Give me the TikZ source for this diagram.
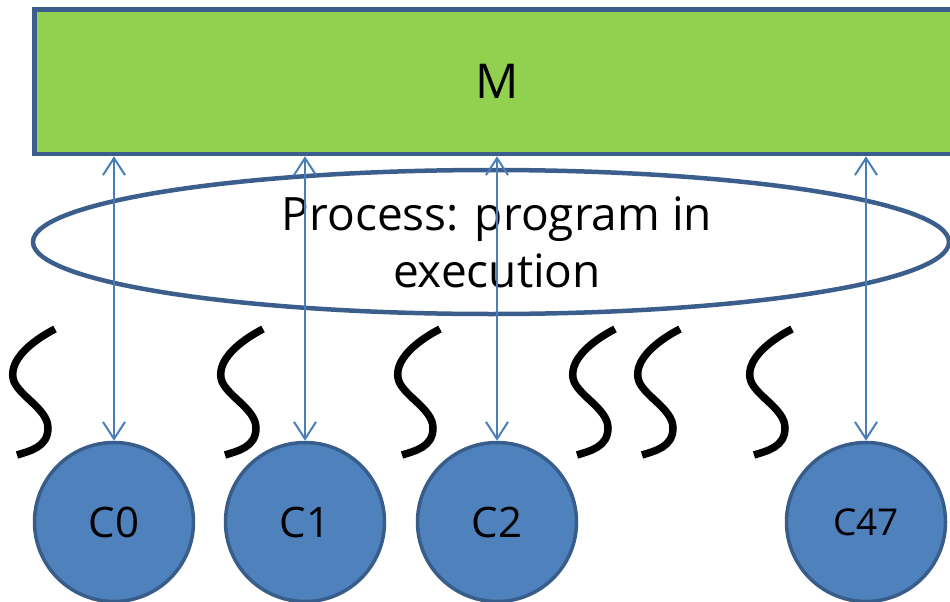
\documentclass[tikz,border=0pt]{standalone}
\usepackage{fontspec}
\setmainfont{Open Sans}
\usetikzlibrary{arrows.meta}
\usetikzlibrary{shapes.geometric}
\definecolor{memgreen}{HTML}{92D050}
\definecolor{edgeblue}{HTML}{3B5E8C}
\definecolor{corefill}{HTML}{4F81BD}
\definecolor{coreedge}{HTML}{385D8A}
\definecolor{linkblue}{HTML}{4A7EBB}
\tikzset{
  membox/.style={draw=edgeblue, fill=memgreen, line width=4.5pt,
    minimum width=925.5pt, minimum height=144.5pt, inner sep=0pt,
    font=\fontsize{48}{56}\selectfont},
  procring/.style={ellipse, draw=edgeblue, line width=4.5pt,
    minimum width=916pt, minimum height=144pt, inner sep=0pt},
  proclabel/.style={align=center, inner sep=0pt,
    font=\fontsize{46}{57}\selectfont},
  core/.style={circle, draw=coreedge, fill=corefill, line width=3.5pt,
    minimum size=159pt, inner sep=0pt, font=\fontsize{42}{48}\selectfont},
  link/.style={draw=linkblue, line width=2pt,
    {Straight Barb[length=17pt,width=22pt]}-{Straight Barb[length=17pt,width=22pt]}},
  squiggle/.style={draw=black, line width=7.5pt}
}
\begin{document}
\begin{tikzpicture}[x=1pt, y=-1pt]
  \useasboundingbox (0,0) rectangle (950,602);
  \clip (0,0) rectangle (950,602);
  % memory
  \node[membox] (mem) at (497.25,81.75) {M};
  % process
  \node[procring] (proc) at (491,242) {};
  \node[proclabel] (proctext) at (497,242) {Process: program in\\execution};
  % threads
  \foreach \dx in {0,208,385,560,625,737}
    \draw[squiggle, shift={(\dx,0)}] (55,329) .. controls (30,342) and (10,360) .. (13,378)
      .. controls (16,395) and (48,408) .. (48,428)
      .. controls (48,447) and (30,451) .. (17,455);
  % cores
  \node[core] (c0) at (114,522) {C0};
  \node[core] (c1) at (305,522) {C1};
  \node[core] (c2) at (497,522) {C2};
  \node[core, font=\fontsize{37}{42}\selectfont] (c47) at (866,522) {C47};
  \foreach \c in {c0,c1,c2,c47}
    \draw[link] (mem.south -| \c.north) -- (\c.north);
\end{tikzpicture}
\end{document}
